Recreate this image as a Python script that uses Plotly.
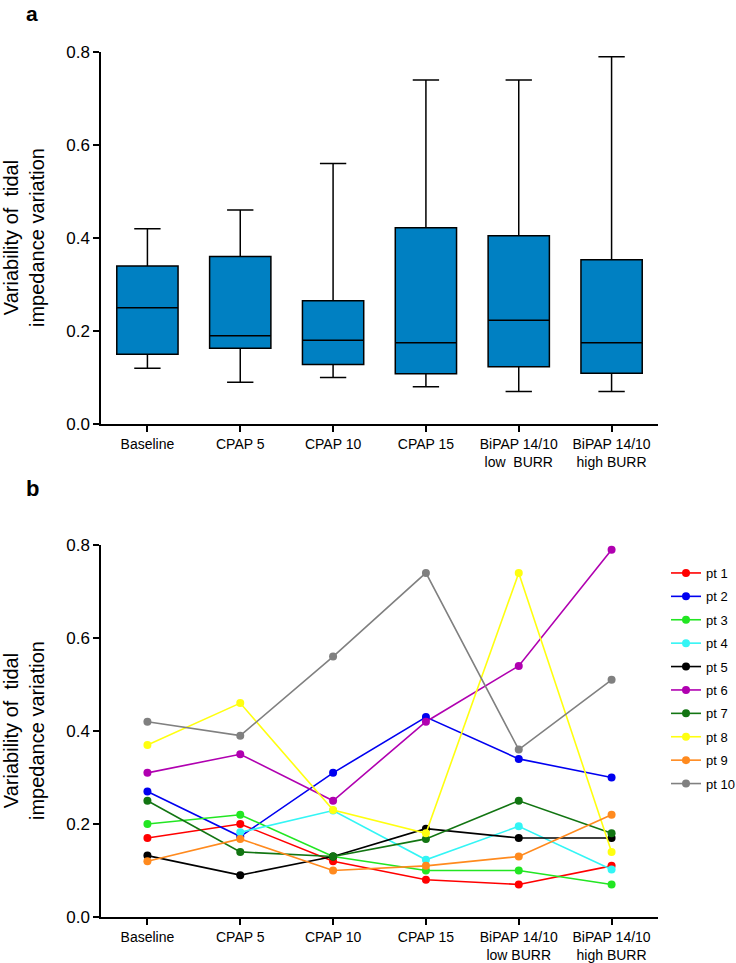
import plotly.graph_objects as go

# ---------------- data ----------------
categories = ["Baseline", "CPAP 5", "CPAP 10", "CPAP 15", "BiPAP low", "BiPAP high"]
labels_top = ["Baseline", "CPAP 5", "CPAP 10", "CPAP 15", "BiPAP 14/10<br>low  BURR", "BiPAP 14/10<br>high BURR"]
labels_bottom = ["Baseline", "CPAP 5", "CPAP 10", "CPAP 15", "BiPAP 14/10<br>low BURR", "BiPAP 14/10<br>high BURR"]

box_min = [0.12, 0.09, 0.10, 0.08, 0.07, 0.07]
box_q1 = [0.15, 0.163, 0.128, 0.108, 0.123, 0.109]
box_median = [0.25, 0.19, 0.18, 0.175, 0.223, 0.175]
box_q3 = [0.34, 0.36, 0.265, 0.422, 0.405, 0.353]
box_max = [0.42, 0.46, 0.56, 0.74, 0.74, 0.79]

patients = ["pt 1", "pt 2", "pt 3", "pt 4", "pt 5", "pt 6", "pt 7", "pt 8", "pt 9", "pt 10"]
pt1 = [0.17, 0.20, 0.12, 0.08, 0.07, 0.11]
pt2 = [0.27, 0.173, 0.31, 0.43, 0.34, 0.30]
pt3 = [0.20, 0.22, 0.13, 0.10, 0.10, 0.07]
pt4 = [None, 0.182, 0.229, 0.123, 0.195, 0.102]
pt5 = [0.132, 0.09, 0.13, 0.19, 0.17, 0.17]
pt6 = [0.31, 0.35, 0.25, 0.42, 0.54, 0.79]
pt7 = [0.25, 0.14, 0.13, 0.168, 0.25, 0.18]
pt8 = [0.37, 0.46, 0.23, 0.18, 0.74, 0.14]
pt9 = [0.12, 0.168, 0.10, 0.11, 0.13, 0.22]
pt10 = [0.42, 0.39, 0.56, 0.74, 0.36, 0.51]
series = [pt1, pt2, pt3, pt4, pt5, pt6, pt7, pt8, pt9, pt10]

# ---------------- styles ----------------
colors = ["#FF0000", "#0000F0", "#22E622", "#33F5F5", "#000000",
          "#B000B0", "#127512", "#FFFF10", "#FF8A1E", "#808080"]
BOX_FILL = "#0080C2"
FONT = "Liberation Sans, Arial, sans-serif"
W, H = 736, 963

def px_x(p):
    return p / W

def px_y(p):
    return 1 - p / H

fig = go.Figure()

fig.add_trace(go.Box(
    x=categories, q1=box_q1, median=box_median, q3=box_q3,
    lowerfence=box_min, upperfence=box_max,
    fillcolor=BOX_FILL, line=dict(color="black", width=1.5),
    width=0.66, whiskerwidth=0.43, boxpoints=False,
    showlegend=False, hoverinfo="skip", xaxis="x", yaxis="y",
))

for name, vals, col in zip(patients, series, colors):
    fig.add_trace(go.Scatter(
        x=categories, y=vals, mode="lines+markers", name=name,
        line=dict(color=col, width=1.6), marker=dict(color=col, size=8),
        xaxis="x2", yaxis="y2", legendgroup=name,
    ))

axis_common = dict(
    showline=True, linecolor="black", linewidth=1.5,
    ticks="outside", ticklen=6, tickwidth=1.5, tickcolor="black",
    showgrid=False, zeroline=False, mirror=False, automargin=False,
)

xdom = [px_x(101), px_x(658)]
fig.update_layout(
    width=W, height=H,
    margin=dict(l=0, r=0, t=0, b=0, autoexpand=False),
    paper_bgcolor="white", plot_bgcolor="white",
    font=dict(family=FONT, color="black"),
    xaxis=dict(domain=xdom, anchor="y", type="category", range=[-0.5, 5.5],
               tickmode="array", tickvals=categories, ticktext=labels_top,
               tickfont=dict(size=14), **axis_common),
    yaxis=dict(domain=[px_y(424), px_y(52)], anchor="x", range=[0, 0.8],
               tickmode="array", tickvals=[0, 0.2, 0.4, 0.6, 0.8], tickformat=".1f",
               tickfont=dict(size=17), **axis_common),
    xaxis2=dict(domain=xdom, anchor="y2", type="category", range=[-0.5, 5.5],
                tickmode="array", tickvals=categories, ticktext=labels_bottom,
                tickfont=dict(size=14), **axis_common),
    yaxis2=dict(domain=[px_y(917), px_y(545)], anchor="x2", range=[0, 0.8],
                tickmode="array", tickvals=[0, 0.2, 0.4, 0.6, 0.8], tickformat=".1f",
                tickfont=dict(size=17), **axis_common),
    legend=dict(x=px_x(666), y=px_y(558), xanchor="left", yanchor="top",
                font=dict(size=13), bgcolor="rgba(0,0,0,0)", tracegroupgap=3.5,
                itemwidth=30),
    showlegend=True,
)

title = "Variability of  tidal<br>impedance variation"
for yc in [238, 731]:
    fig.add_annotation(text=title, textangle=-90, xref="paper", yref="paper",
                       x=px_x(24), y=px_y(yc), xanchor="center", yanchor="middle",
                       showarrow=False, font=dict(size=20))

fig.add_annotation(text="<b>a</b>", xref="paper", yref="paper",
                   x=px_x(24), y=1.0, xanchor="left", yanchor="top",
                   showarrow=False, font=dict(size=21))
fig.add_annotation(text="<b>b</b>", xref="paper", yref="paper",
                   x=px_x(24), y=px_y(489), xanchor="left", yanchor="middle",
                   showarrow=False, font=dict(size=22))

fig.write_html("out.html",
               config={"displayModeBar": False},
               post_script="document.body.style.margin='0px';document.body.style.padding='0px';")
